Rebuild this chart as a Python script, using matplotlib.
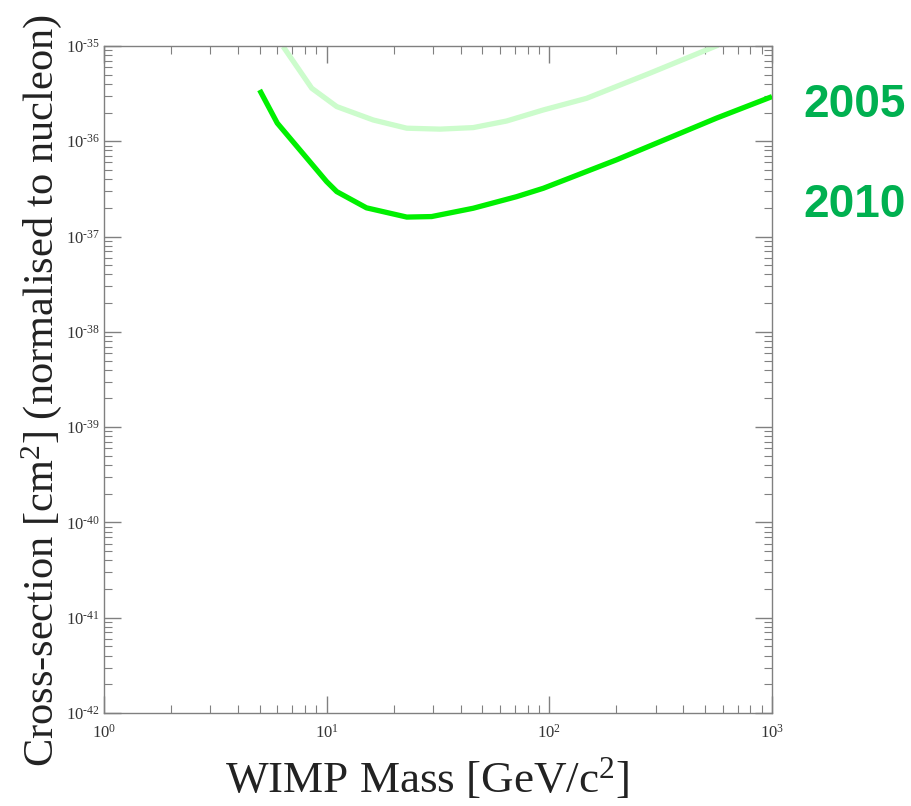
import matplotlib
matplotlib.use("Agg")
import numpy as np
import matplotlib.pyplot as plt
from matplotlib.ticker import LogLocator, NullFormatter, FuncFormatter, FixedLocator

plt.rcParams['font.family'] = ['Liberation Serif', 'DejaVu Serif']
plt.rcParams['mathtext.fontset'] = 'custom'
plt.rcParams['mathtext.rm'] = 'Liberation Serif'
plt.rcParams['mathtext.it'] = 'Liberation Serif:italic'
plt.rcParams['mathtext.bf'] = 'Liberation Serif:bold'

# WIMP mass [GeV/c^2] and cross-section [cm^2]
mass_2010 = [5.0, 6.0, 10.0, 11.1, 15.1, 22.9, 29.6, 45.5, 71.3, 94, 200, 564, 1000]
sigma_2010 = [3.45e-36, 1.55e-36, 3.77e-37, 2.96e-37, 2.0e-37, 1.6e-37, 1.62e-37,
              1.98e-37, 2.62e-37, 3.21e-37, 6.37e-37, 1.75e-36, 2.94e-36]

mass_2005 = [6.38, 8.57, 11.1, 16.2, 22.9, 32.3, 45.5, 64.3, 94, 147, 283, 573]
sigma_2005 = [9.84e-36, 3.6e-36, 2.31e-36, 1.67e-36, 1.37e-36, 1.34e-36, 1.39e-36,
              1.63e-36, 2.13e-36, 2.82e-36, 5.18e-36, 1.02e-35]

x_exponents = [0, 1, 2, 3]
y_exponents = [-42, -41, -40, -39, -38, -37, -36, -35]

fig = plt.figure(figsize=(9.12, 8.06), dpi=100)
ax = fig.add_axes([0.114, 0.1154, 0.7325, 0.8276])

ax.plot(mass_2005, sigma_2005, color='#ccfccc', lw=3.8, solid_capstyle='butt', zorder=2)
ax.plot(mass_2010, sigma_2010, color='#00f000', lw=3.8, solid_capstyle='butt', zorder=3)

ax.set_xscale('log')
ax.set_yscale('log')
ax.set_xlim(1, 1000)
ax.set_ylim(1e-42, 1e-35)

ax.xaxis.set_major_locator(FixedLocator([10.0 ** e for e in x_exponents]))
ax.yaxis.set_major_locator(FixedLocator([10.0 ** e for e in y_exponents]))
ax.xaxis.set_minor_locator(FixedLocator([k * 10.0 ** e for e in x_exponents[:-1] for k in range(2, 10)]))
ax.yaxis.set_minor_locator(FixedLocator([k * 10.0 ** e for e in y_exponents[:-1] for k in range(2, 10)]))
ax.xaxis.set_minor_formatter(NullFormatter())
ax.yaxis.set_minor_formatter(NullFormatter())

def pow_fmt(v, pos):
    e = int(round(np.log10(v)))
    return r'10$^{\text{%d}}$' % e

ax.xaxis.set_major_formatter(FuncFormatter(pow_fmt))
ax.yaxis.set_major_formatter(FuncFormatter(pow_fmt))

gray = '#808080'
for s in ax.spines.values():
    s.set_color(gray)
    s.set_linewidth(1.0)
ax.tick_params(which='both', direction='in', top=True, right=True, color=gray,
               labelsize=12, labelcolor='#333333')
ax.tick_params(which='major', length=12, width=1.0)
ax.tick_params(which='minor', length=6, width=0.8)
ax.tick_params(axis='y', which='major', pad=3)
ax.tick_params(axis='x', which='major', pad=8)

ax.set_xlabel('WIMP Mass [GeV/c$^2$]', fontsize=32.5, color='#222222')
ax.xaxis.set_label_coords(0.4835, -0.064)
ax.set_ylabel('Cross-section [cm$^2$] (normalised to nucleon)', fontsize=30.5, color='#222222')
ax.yaxis.set_label_coords(-0.06, 0.484)

fig.text(0.9934, 0.8548, '2005', color='#00b050', fontsize=33, fontweight='bold',
         family=['Liberation Sans', 'DejaVu Sans'], ha='right', va='baseline')
fig.text(0.9934, 0.7308, '2010', color='#00b050', fontsize=33, fontweight='bold',
         family=['Liberation Sans', 'DejaVu Sans'], ha='right', va='baseline')

fig.savefig('out.png', dpi=100)
